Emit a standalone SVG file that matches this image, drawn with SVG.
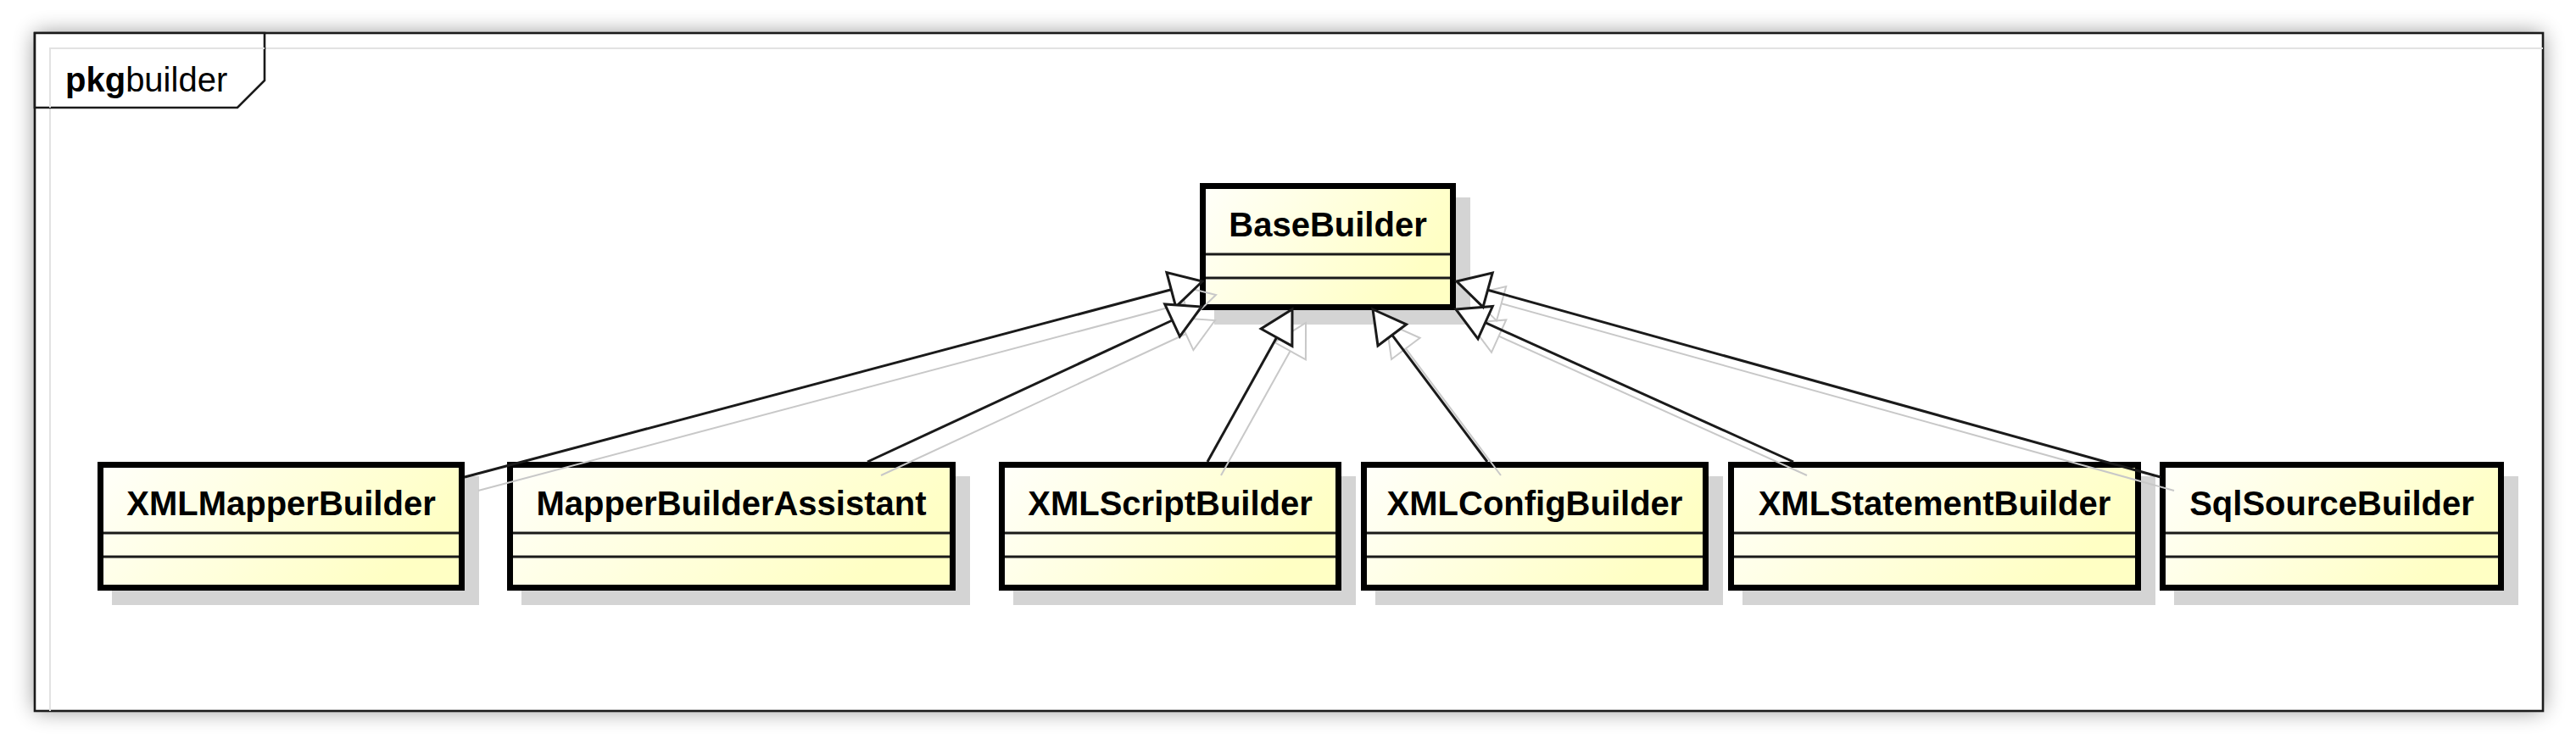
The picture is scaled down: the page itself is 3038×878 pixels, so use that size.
<svg xmlns="http://www.w3.org/2000/svg" width="3038" height="878" viewBox="0 0 3038 878">
<style>
.frame{fill:#fff;stroke:#1a1a1a;stroke-width:2.6}
.tab{fill:#fff;stroke:#1a1a1a;stroke-width:2.6}
.bevel{stroke:#e2e2e2;stroke-width:2;fill:none}
.shadow{fill:#d4d4d4}
.box{fill:url(#g);stroke:#000;stroke-width:7}
.div{stroke:#1a1a1a;stroke-width:3}
.name{font-family:"Liberation Sans",Arial,sans-serif;font-weight:bold;font-size:40px;fill:#000;text-anchor:middle}
.pkg{font-family:"Liberation Sans",Arial,sans-serif;font-size:40px;fill:#000}
.ln{stroke:#1a1a1a;stroke-width:3;fill:none}
.hd{stroke:#1a1a1a;stroke-width:3;fill:#fff;stroke-linejoin:miter}
.sln{stroke:#c8c8c8;stroke-width:2;fill:none}
.shd{stroke:#c8c8c8;stroke-width:2;fill:none}
</style>
<defs>
<linearGradient id="g" x1="0" y1="0" x2="1" y2="0.35">
<stop offset="0" stop-color="#fffffa"/>
<stop offset="1" stop-color="#ffffc4"/>
</linearGradient>
<filter id="fs" x="-3%" y="-10%" width="106%" height="120%">
<feGaussianBlur stdDeviation="13"/>
</filter>
</defs>
<rect width="3038" height="878" fill="#fff"/>
<g id="frame">
<rect x="41" y="39" width="2958" height="800" fill="#000" opacity="0.42" filter="url(#fs)"/>
<rect class="frame" x="41" y="39" width="2958" height="800"/>
<path class="bevel" d="M59 839V57H2999"/>
<path class="tab" d="M41 39H312V95L280 127H41Z"/>
<path class="bevel" d="M59 127V57H312"/>
<text class="pkg" x="77" y="108"><tspan font-weight="bold">pkg</tspan>builder</text>
</g>
<g id="BaseBuilder">
<rect class="shadow" x="1432" y="233" width="302" height="150"/>
<rect class="box" x="1418.5" y="219.5" width="295" height="143"/>
<line class="div" x1="1422" y1="300" x2="1710" y2="300"/>
<line class="div" x1="1422" y1="328" x2="1710" y2="328"/>
<text class="name" x="1566" y="279">BaseBuilder</text>
</g>
<g id="XMLMapperBuilder">
<rect class="shadow" x="132" y="562" width="433" height="152"/>
<rect class="box" x="118.5" y="548.5" width="426" height="145"/>
<line class="div" x1="122" y1="629" x2="541" y2="629"/>
<line class="div" x1="122" y1="657" x2="541" y2="657"/>
<text class="name" x="331.5" y="608">XMLMapperBuilder</text>
</g>
<g id="MapperBuilderAssistant">
<rect class="shadow" x="615" y="562" width="529" height="152"/>
<rect class="box" x="601.5" y="548.5" width="522" height="145"/>
<line class="div" x1="605" y1="629" x2="1120" y2="629"/>
<line class="div" x1="605" y1="657" x2="1120" y2="657"/>
<text class="name" x="862.5" y="608">MapperBuilderAssistant</text>
</g>
<g id="XMLScriptBuilder">
<rect class="shadow" x="1195" y="562" width="404" height="152"/>
<rect class="box" x="1181.5" y="548.5" width="397" height="145"/>
<line class="div" x1="1185" y1="629" x2="1575" y2="629"/>
<line class="div" x1="1185" y1="657" x2="1575" y2="657"/>
<text class="name" x="1380" y="608">XMLScriptBuilder</text>
</g>
<g id="XMLConfigBuilder">
<rect class="shadow" x="1622" y="562" width="410" height="152"/>
<rect class="box" x="1608.5" y="548.5" width="403" height="145"/>
<line class="div" x1="1612" y1="629" x2="2008" y2="629"/>
<line class="div" x1="1612" y1="657" x2="2008" y2="657"/>
<text class="name" x="1810" y="608">XMLConfigBuilder</text>
</g>
<g id="XMLStatementBuilder">
<rect class="shadow" x="2055" y="562" width="487" height="152"/>
<rect class="box" x="2041.5" y="548.5" width="480" height="145"/>
<line class="div" x1="2045" y1="629" x2="2518" y2="629"/>
<line class="div" x1="2045" y1="657" x2="2518" y2="657"/>
<text class="name" x="2281.5" y="608">XMLStatementBuilder</text>
</g>
<g id="SqlSourceBuilder">
<rect class="shadow" x="2564" y="562" width="406" height="152"/>
<rect class="box" x="2550.5" y="548.5" width="399" height="145"/>
<line class="div" x1="2554" y1="629" x2="2946" y2="629"/>
<line class="div" x1="2554" y1="657" x2="2946" y2="657"/>
<text class="name" x="2750" y="608">SqlSourceBuilder</text>
</g>
<g id="connectors">
<g transform="translate(16,16)">
<line class="sln" x1="548" y1="563" x2="1381.3" y2="341.8"/>
<polygon class="shd" points="1418,332 1386.7,362.1 1375.9,321.5"/>
<line class="sln" x1="1023" y1="545" x2="1382.5" y2="378"/>
<polygon class="shd" points="1417,362 1391.4,397.1 1373.7,359"/>
<line class="sln" x1="1424" y1="545" x2="1505.6" y2="398.2"/>
<polygon class="shd" points="1524,365 1523.9,408.4 1487.2,388"/>
<line class="sln" x1="1754" y1="545" x2="1641.8" y2="395.4"/>
<polygon class="shd" points="1619,365 1658.6,382.8 1625,408"/>
<line class="sln" x1="2115" y1="545" x2="1751.6" y2="380.7"/>
<polygon class="shd" points="1717,365 1760.3,361.5 1743,399.8"/>
<line class="sln" x1="2548" y1="563" x2="1754.6" y2="342.2"/>
<polygon class="shd" points="1718,332 1760.2,322 1749,362.4"/>
</g>
<line class="ln" x1="548" y1="563" x2="1381.3" y2="341.8"/>
<polygon class="hd" points="1418,332 1386.7,362.1 1375.9,321.5"/>
<line class="ln" x1="1023" y1="545" x2="1382.5" y2="378"/>
<polygon class="hd" points="1417,362 1391.4,397.1 1373.7,359"/>
<line class="ln" x1="1424" y1="545" x2="1505.6" y2="398.2"/>
<polygon class="hd" points="1524,365 1523.9,408.4 1487.2,388"/>
<line class="ln" x1="1754" y1="545" x2="1641.8" y2="395.4"/>
<polygon class="hd" points="1619,365 1658.6,382.8 1625,408"/>
<line class="ln" x1="2115" y1="545" x2="1751.6" y2="380.7"/>
<polygon class="hd" points="1717,365 1760.3,361.5 1743,399.8"/>
<line class="ln" x1="2548" y1="563" x2="1754.6" y2="342.2"/>
<polygon class="hd" points="1718,332 1760.2,322 1749,362.4"/>
</g>
</svg>
